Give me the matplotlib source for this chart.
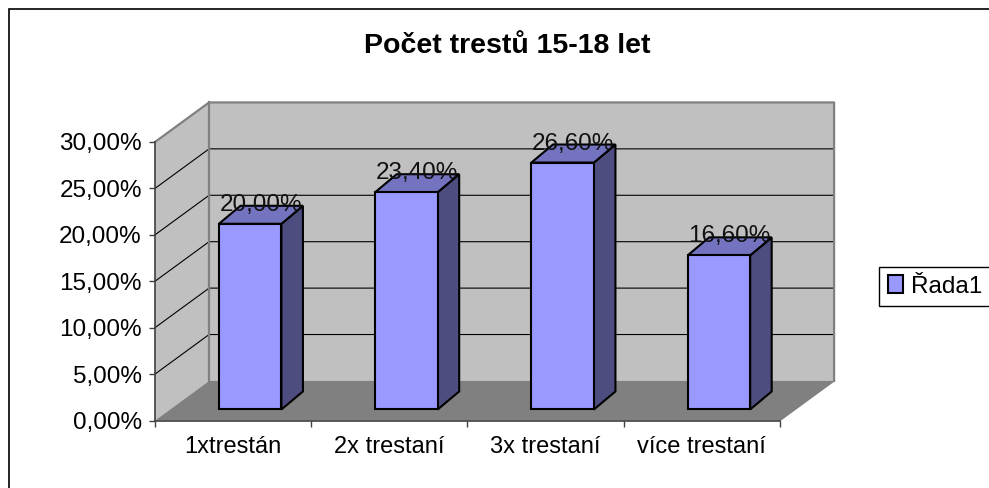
import matplotlib
matplotlib.use('Agg')
import matplotlib.pyplot as plt
from matplotlib.patches import Rectangle, Patch

plt.rcParams['font.family'] = ['Liberation Sans', 'DejaVu Sans']

categories = ['1xtrestán', '2x trestaní', '3x trestaní', 'více trestaní']
values = [20.0, 23.4, 26.6, 16.6]
value_labels = ['20,00%', '23,40%', '26,60%', '16,60%']
y_ticks = [0, 5, 10, 15, 20, 25, 30]
y_labels = ['0,00%', '5,00%', '10,00%', '15,00%', '20,00%', '25,00%', '30,00%']
series_name = 'Řada1'

W, H = 989, 488
# depth of the chart box, in x and y axis units
DX = 54 / 156
DY = 39.5 / 9.27
BAR_W = 0.40
BAR_DX = 21.5 / 156
BAR_DY = 18 / 9.27
BAR_SHIFT = 17 / 156
BAR_BOTTOM = 11 / 9.27


def p(x, y, d=0):
    return x + d * DX, y + d * DY


def face(ax, pts, color, edge='none', lw=0, z=1):
    xs, ys = zip(*pts)
    ax.fill(xs, ys, facecolor=color, edgecolor=edge, linewidth=lw, zorder=z,
            clip_on=False, joinstyle='miter')


fig = plt.figure(figsize=(W / 100, H / 100), dpi=100)
fig.patch.set_facecolor('white')
fig.add_artist(Rectangle((9 / W, -0.01), 1.01 - 9 / W, 1 - 9 / H + 0.01, transform=fig.transFigure,
                         fill=False, edgecolor='black', linewidth=1.2))

ax = fig.add_axes([155 / W, (H - 420.5) / H, 625 / W, 278.5 / H])
ax.set_xlim(0, 4)
ax.set_ylim(0, 30)
ax.patch.set_visible(False)

# walls and floor
face(ax, [p(0, 0, 1), p(4, 0, 1), p(4, 30, 1), p(0, 30, 1)], '#c0c0c0', z=1)
face(ax, [p(0, 0), p(0, 0, 1), p(0, 30, 1), p(0, 30)], '#c0c0c0', z=1)
face(ax, [p(0, 0), p(4, 0), p(4, 0, 1), p(0, 0, 1)], '#808080', z=2)

# grid lines
for t in y_ticks[1:-1]:
    xs, ys = zip(p(0, t), p(0, t, 1), p(4, t, 1))
    ax.plot(xs, ys, color='black', lw=0.8, zorder=3, clip_on=False)

# wall edges
xs, ys = zip(p(0, 30), p(0, 30, 1), p(4, 30, 1), p(4, 0, 1))
ax.plot(xs, ys, color='#808080', lw=1.6, zorder=3, clip_on=False)
xs, ys = zip(p(0, 30, 1), p(0, 0, 1))
ax.plot(xs, ys, color='#808080', lw=1.6, zorder=3, clip_on=False)
xs, ys = zip(p(4, 0), p(4, 0, 1))
ax.plot(xs, ys, color='#808080', lw=1, zorder=3, clip_on=False)

# bars
for i, v in enumerate(values):
    x0 = i + 0.5 - BAR_W / 2 + BAR_SHIFT
    x1 = x0 + BAR_W
    by = BAR_BOTTOM
    top = by + v
    face(ax, [(x1, by), (x1 + BAR_DX, by + BAR_DY), (x1 + BAR_DX, top + BAR_DY), (x1, top)],
         '#4d4d80', 'black', 1.5, 5)
    face(ax, [(x0, top), (x1, top), (x1 + BAR_DX, top + BAR_DY), (x0 + BAR_DX, top + BAR_DY)],
         '#7373bf', 'black', 1.5, 5)
    face(ax, [(x0, by), (x1, by), (x1, top), (x0, top)], '#9999ff', 'black', 1.5, 6)
    ax.text((x0 + x1) / 2 + BAR_DX / 2, top + BAR_DY + 0.1, value_labels[i], ha='center', va='center',
            fontsize=17.5, color='#111111', zorder=7)

# axes
for s in ['top', 'right']:
    ax.spines[s].set_visible(False)
for s in ['left', 'bottom']:
    ax.spines[s].set_color('#404040')
    ax.spines[s].set_linewidth(1.2)
    ax.spines[s].set_zorder(4)
ax.set_yticks(y_ticks)
ax.set_yticklabels(y_labels, fontsize=17.5)
ax.set_xticks(range(5))
ax.set_xticklabels([])
ax.set_xticks([i + 0.5 for i in range(4)], minor=True)
ax.set_xticklabels(categories, minor=True, fontsize=17)
ax.tick_params(axis='x', which='minor', length=0, pad=11)
ax.tick_params(axis='x', which='major', length=4.5, width=1, color='#404040')
ax.tick_params(axis='y', length=4.5, width=1, color='#404040', pad=5)

fig.text(507 / W, 1 - 46 / H, 'Počet trestů 15-18 let', ha='center', va='center',
         fontsize=20.5, fontweight='bold')

handle = Patch(facecolor='#9999ff', edgecolor='black', linewidth=1.5)
fig.legend([handle], [series_name], loc='center left', bbox_to_anchor=(879 / W, 1 - 286.5 / H),
           fontsize=17.5, fancybox=False, framealpha=1, edgecolor='black', borderpad=0.35,
           handlelength=0.62, handleheight=0.7, handletextpad=0.35, borderaxespad=0)

fig.savefig('out.png', dpi=100)
